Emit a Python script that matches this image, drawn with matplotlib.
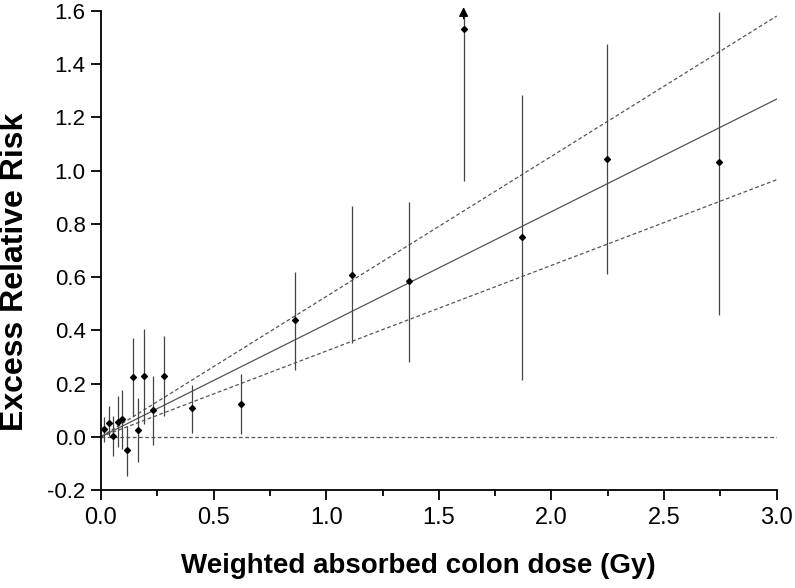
import numpy as np
import matplotlib.pyplot as plt

plt.rcParams['font.family'] = ['Liberation Sans', 'DejaVu Sans']

# dose (Gy), excess relative risk, and CI bounds
dose = [0.015, 0.034, 0.055, 0.074, 0.095, 0.117, 0.141, 0.166, 0.191, 0.229,
        0.28, 0.402, 0.62, 0.862, 1.113, 1.366, 1.61, 1.87, 2.247, 2.742]
err = [0.029, 0.050, 0.001, 0.056, 0.067, -0.051, 0.225, 0.026, 0.23, 0.102,
       0.23, 0.108, 0.123, 0.437, 0.609, 0.584, 1.531, 0.752, 1.043, 1.033]
lower = [-0.018, 0.004, -0.072, -0.039, -0.046, -0.149, 0.077, -0.095, 0.049, -0.030,
         0.077, 0.014, 0.010, 0.252, 0.354, 0.282, 0.961, 0.215, 0.61, 0.458]
upper = [0.074, 0.117, 0.077, 0.152, 0.177, 0.041, 0.372, 0.146, 0.405, 0.23,
         0.38, 0.196, 0.236, 0.62, 0.867, 0.884, 1.58, 1.285, 1.476, 1.598]

# linear fit slope and 95% CI slopes
slope = 0.423
slope_lo = 0.322
slope_hi = 0.527

fig = plt.figure(figsize=(7.95, 5.88), dpi=100)
ax = fig.add_axes([0.127, 0.1667, 0.85, 0.8146])

xs = np.array([0.0, 3.0])
ax.plot(xs, slope * xs, color='#555555', lw=0.9)
ax.plot(xs, slope_lo * xs, color='#555555', lw=0.9, ls=(0, (3, 2)))
ax.plot(xs, slope_hi * xs, color='#555555', lw=0.9, ls=(0, (3, 2)))
ax.axhline(0, color='#555555', lw=0.9, ls=(0, (3, 2)))

ax.vlines(dose, lower, upper, color='#444444', lw=0.9)
ax.plot(dose, err, 'D', color='black', ms=3)

# open-ended upper bound at 1.6 Gy
ax.annotate('', xy=(1.61, 1.625), xytext=(1.61, 1.56),
            arrowprops=dict(arrowstyle='-|>', color='black', lw=0.9,
                            mutation_scale=14), annotation_clip=False)

ax.set_xlim(0, 3.0)
ax.set_ylim(-0.2, 1.6)
ax.set_xticks(np.arange(0, 3.01, 0.5))
ax.set_xticks(np.arange(0.25, 3.0, 0.5), minor=True)
ax.set_yticks(np.arange(-0.2, 1.61, 0.2))
ax.set_xticklabels([f'{v:.1f}' for v in np.arange(0, 3.01, 0.5)])
ax.set_yticklabels([f'{v:.1f}' for v in np.arange(-0.2, 1.61, 0.2)])

for s in ['top', 'right']:
    ax.spines[s].set_visible(False)
for s in ['left', 'bottom']:
    ax.spines[s].set_linewidth(1.3)
ax.tick_params(which='major', direction='out', length=7, width=1.3)
ax.tick_params(which='minor', direction='out', length=4, width=1.3)
ax.tick_params(axis='x', which='major', labelsize=17, pad=5)
ax.tick_params(axis='y', which='major', labelsize=16, pad=4)

ax.set_xlabel('Weighted absorbed colon dose (Gy)', fontsize=20, fontweight='bold')
ax.set_ylabel('Excess Relative Risk', fontsize=23, fontweight='bold')
ax.xaxis.set_label_coords(0.469, -0.131)
ax.yaxis.set_label_coords(-0.105, 0.455)

fig.savefig('out.png', dpi=100)
